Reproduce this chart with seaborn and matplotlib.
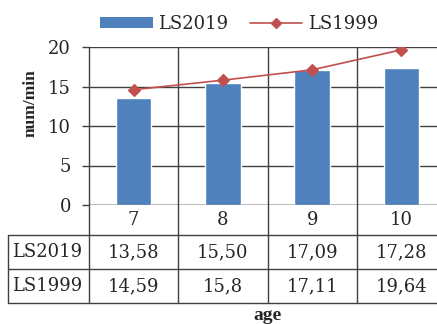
import matplotlib
matplotlib.use("Agg")
import matplotlib.pyplot as plt
import matplotlib.transforms as mtransforms
from matplotlib.patches import Patch
from matplotlib.lines import Line2D
import pandas as pd
import seaborn as sns

# Reading speed by age, two survey years
ages = ["7", "8", "9", "10"]
ls2019_text = ["13,58", "15,50", "17,09", "17,28"]
ls1999_text = ["14,59", "15,8", "17,11", "19,64"]
series_names = ["LS2019", "LS1999"]
y_ticks = [0, 5, 10, 15, 20]

ls2019 = [float(s.replace(",", ".")) for s in ls2019_text]
ls1999 = [float(s.replace(",", ".")) for s in ls1999_text]
df = pd.DataFrame({"age": ages, "LS2019": ls2019, "LS1999": ls1999})

sns.set_style("white")
plt.rcParams["font.family"] = ["DejaVu Serif"]

BLUE = "#4F81BD"
RED = "#C0504D"
GRID = "#404040"
FS = 13

W, H = 437, 324
fig = plt.figure(figsize=(W / 100, H / 100), dpi=100)
# plot area in pixels: left 89, top 47, bottom 205, one category = 89.25 px
cat_w = 89.25
ax = fig.add_axes([89 / W, (H - 205) / H, 4 * cat_w / W, 158 / H])

sns.barplot(data=df, x="age", y="LS2019", order=ages, color=BLUE,
            saturation=1, width=0.4, errorbar=None, ax=ax, zorder=2)
sns.pointplot(data=df, x="age", y="LS1999", order=ages, color=RED,
              markers="D", markersize=6.5, linewidth=1.2, errorbar=None, ax=ax)
for ln in ax.lines:
    ln.set_zorder(4)

ax.set_xlim(-0.5, 3.5)
ax.set_ylim(0, 20)
ax.set_yticks(y_ticks)
ax.set_yticklabels([str(t) for t in y_ticks], fontsize=FS)
ax.set_xticks([])
ax.set_xlabel("")
ax.set_ylabel("")
ax.yaxis.grid(True, color=GRID, linewidth=1)
ax.set_axisbelow(True)
ax.tick_params(axis="y", which="both", left=True, length=5, width=1,
               color=GRID, pad=8)
for side in ["top", "right", "bottom", "left"]:
    ax.spines[side].set_visible(False)
ax.axhline(0, color=GRID, linewidth=1, zorder=3)

# data table under the plot
trans = mtransforms.blended_transform_factory(ax.transData, ax.transAxes)
px = 1 / 158  # one pixel in axes height units
row_cat = -30 * px
row_a = -64.3 * px
row_b = -97.7 * px
x_left = -0.5 - (89 - 8.3) / cat_w
line_kw = dict(color=GRID, linewidth=1, transform=trans, clip_on=False, zorder=3)

for xb in [-0.5, 0.5, 1.5, 2.5, 3.5]:
    ax.plot([xb, xb], [row_b, 1], **line_kw)
for yr in [row_cat, row_a, row_b]:
    ax.plot([x_left, 3.5], [yr, yr], **line_kw)
ax.plot([x_left, x_left], [row_cat, row_b], **line_kw)

for i, a in enumerate(ages):
    ax.text(i, (0 + row_cat) / 2, a, ha="center", va="center",
            fontsize=FS, transform=trans)
    ax.text(i, (row_cat + row_a) / 2, ls2019_text[i], ha="center",
            va="center", fontsize=FS, transform=trans)
    ax.text(i, (row_a + row_b) / 2, ls1999_text[i], ha="center",
            va="center", fontsize=FS, transform=trans)
x_lab = -0.5 - (89 - 47) / cat_w
ax.text(x_lab, (row_cat + row_a) / 2, series_names[0], ha="center",
        va="center", fontsize=FS, transform=trans)
ax.text(x_lab, (row_a + row_b) / 2, series_names[1], ha="center",
        va="center", fontsize=FS, transform=trans)

# axis titles
fig.text(31 / W, 1 - 103 / H, "num/min", rotation=90, ha="center",
         va="center", fontsize=12.5, fontweight="bold",
         family=["Liberation Serif"])
fig.text(268 / W, 1 - 315 / H, "age", ha="center", va="center",
         fontsize=14, fontweight="bold", family=["Liberation Serif"])

handles = [Patch(facecolor=BLUE, edgecolor="none"),
           Line2D([0], [0], color=RED, linewidth=1.2, marker="D",
                  markersize=5.5)]
ax.legend(handles, series_names, loc="center", ncol=2, frameon=False,
          bbox_to_anchor=(239 / W, 1 - 24 / H),
          bbox_transform=fig.transFigure, fontsize=FS, handlelength=2.9,
          handleheight=0.6, handletextpad=0.3, columnspacing=1.2)

fig.savefig("out.png", dpi=100)
